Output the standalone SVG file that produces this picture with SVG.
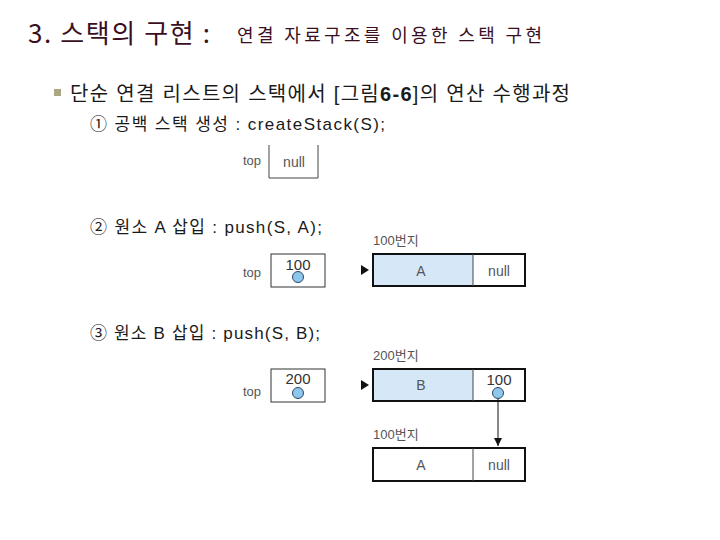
<svg xmlns="http://www.w3.org/2000/svg" width="720" height="540" viewBox="0 0 720 540">
<defs>
<style>
.kr{font-family:"Noto Sans CJK KR","Noto Sans",sans-serif}
.mix{font-family:"Liberation Sans","Noto Sans CJK KR",sans-serif}
.title{fill:#3a0f22}
.body{fill:#1a1a1a}
.lbl{font-family:"Liberation Sans","Noto Sans CJK KR",sans-serif;fill:#555}
.box{fill:#fff;stroke:#333;stroke-width:1}
.data{fill:#d6e8f7}
.dot{fill:#8ec6ec;stroke:#2a4a66;stroke-width:1}
.div{stroke:#444;stroke-width:1}
</style>
<marker id="ah" viewBox="0 0 10 10" refX="10" refY="5" markerWidth="8" markerHeight="8" markerUnits="userSpaceOnUse" orient="auto">
<path d="M0,0 L10,5 L0,10 z" fill="#111"/>
</marker>
</defs>
<rect width="720" height="540" fill="#fff"/>

<g id="heading">
<text class="kr title" x="28" y="43" font-size="26" textLength="182" lengthAdjust="spacing">3. 스택의 구현 :</text>
<text class="kr title" x="237" y="42" font-size="18" textLength="305" lengthAdjust="spacing">연결 자료구조를 이용한 스택 구현</text>
</g>

<g id="bullet">
<rect x="54" y="89" width="7" height="7" fill="#a9a882"/>
<text class="mix body" x="70" y="101" font-size="20" textLength="500" lengthAdjust="spacing">단순 연결 리스트의 스택에서 [그림<tspan font-weight="bold">6-6</tspan>]의 연산 수행과정</text>
<text class="mix body" x="90" y="130" font-size="17" textLength="295" lengthAdjust="spacing">① 공백 스택 생성 : createStack(S);</text>
<text class="mix body" x="90" y="233" font-size="17" textLength="232" lengthAdjust="spacing">② 원소 A 삽입 : push(S, A);</text>
<text class="mix body" x="90" y="339" font-size="17" textLength="230" lengthAdjust="spacing">③ 원소 B 삽입 : push(S, B);</text>
</g>

<g id="step1-top">
<text class="lbl" x="243" y="165" font-size="13">top</text>
<path d="M269,145 V178 H318 V145" fill="none" stroke="#444" stroke-width="1"/>
<text class="lbl" x="294" y="167" font-size="14" text-anchor="middle">null</text>
</g>

<g id="step2-top">
<text class="lbl" x="243" y="277" font-size="13">top</text>
<rect class="box" x="271" y="254" width="54" height="33"/>
<text class="lbl" x="298" y="270" font-size="15" text-anchor="middle" style="fill:#333">100</text>
<circle class="dot" cx="298" cy="277" r="5.5"/>
</g>

<g id="step2-nodeA">
<text class="lbl" x="373" y="245" font-size="13">100번지</text>
<rect class="data" x="373" y="254" width="100" height="32"/>
<rect x="373" y="254" width="152" height="32" fill="none" stroke="#111" stroke-width="2"/>
<line class="div" x1="473" y1="254" x2="473" y2="286"/>
<text class="lbl" x="421" y="276" font-size="14" text-anchor="middle">A</text>
<text class="lbl" x="499" y="276" font-size="14" text-anchor="middle">null</text>
</g>

<g id="step3-top">
<text class="lbl" x="243" y="396" font-size="13">top</text>
<rect class="box" x="271" y="369" width="54" height="33"/>
<text class="lbl" x="298" y="384" font-size="15" text-anchor="middle" style="fill:#333">200</text>
<circle class="dot" cx="298" cy="393" r="5.5"/>
</g>

<g id="step3-nodeB">
<text class="lbl" x="373" y="360" font-size="13">200번지</text>
<rect class="data" x="373" y="369" width="100" height="32"/>
<rect x="373" y="369" width="152" height="32" fill="none" stroke="#111" stroke-width="2"/>
<line class="div" x1="473" y1="369" x2="473" y2="401"/>
<text class="lbl" x="421" y="390" font-size="14" text-anchor="middle">B</text>
<text class="lbl" x="499" y="385" font-size="15" text-anchor="middle" style="fill:#333">100</text>
</g>

<g id="step3-nodeA">
<text class="lbl" x="373" y="439" font-size="13">100번지</text>
<rect x="373" y="448" width="152" height="33" fill="#fff" stroke="#111" stroke-width="2"/>
<line class="div" x1="473" y1="448" x2="473" y2="481"/>
<text class="lbl" x="421" y="470" font-size="14" text-anchor="middle">A</text>
<text class="lbl" x="499" y="470" font-size="14" text-anchor="middle">null</text>
</g>

<g id="connectors">
<path d="M361,265 L369,270 L361,275 z" fill="#111"/>
<path d="M361,380 L369,385 L361,390 z" fill="#111"/>
<line x1="498" y1="393" x2="498" y2="446" stroke="#111" stroke-width="1" marker-end="url(#ah)"/>
<circle class="dot" cx="498" cy="393" r="5.5"/>
</g>
</svg>
